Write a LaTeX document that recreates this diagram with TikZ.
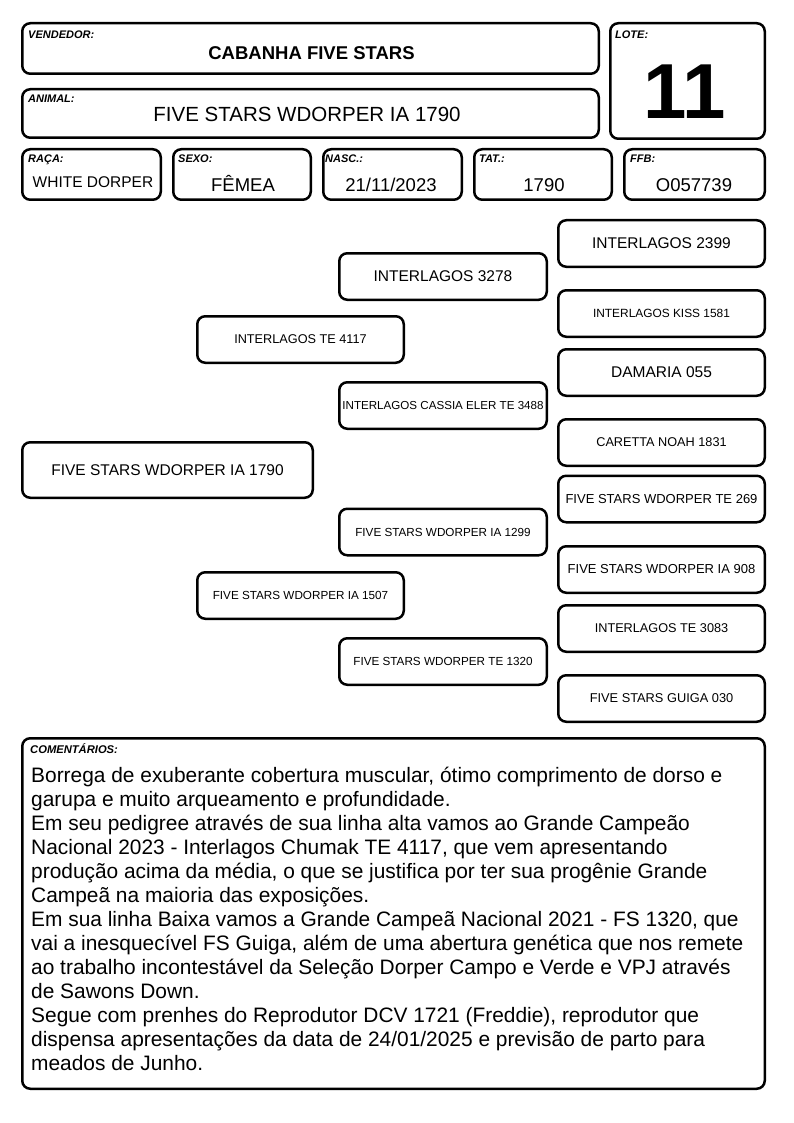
\documentclass[tikz,border=0pt]{standalone}
\usepackage{fontspec}
\setmainfont{Liberation Sans}
\usetikzlibrary{positioning}

\tikzset{
  frame/.style={draw, line width=2.5pt, rounded corners=8pt, inner sep=0pt},
  tag/.style={anchor=base west, inner sep=0pt, font=\fontsize{11}{11}\selectfont\bfseries\itshape},
  val/.style={anchor=base, inner sep=0pt, font=\fontsize{18.5}{18.5}\selectfont},
  pbox/.style={frame, minimum width=206.5pt, minimum height=46.5pt},
}

\begin{document}
\begin{tikzpicture}[x=1pt, y=-1pt]
  \useasboundingbox (0,0) rectangle (794,1123);
  % ---------- HEADER ----------
  \node[frame, minimum width=576.5pt, minimum height=50.5pt] (vend) at (310.5,48.5) {};
  \node[frame, minimum width=576.5pt, minimum height=48.5pt] (anim) at (310.5,113.5) {};
  \node[frame, minimum width=154.5pt, minimum height=115.5pt] (lote) at (687.5,81) {};
  \node[tag] (vendtag) at (28,39) {VENDEDOR:};
  \node[val, font=\fontsize{18.5}{18.5}\selectfont\bfseries] (vendval) at (311.5,60) {CABANHA FIVE STARS};
  \node[tag] (animtag) at (28,103) {ANIMAL:};
  \node[val, font=\fontsize{20.5}{20.5}\selectfont] (animval) at (307,122) {FIVE STARS WDORPER IA 1790};
  \node[tag] (lotetag) at (615,39) {LOTE:};
  \node[val, font=\fontsize{78}{78}\selectfont\bfseries] (loteval) at (685,119) {11};
  % ---------- DATA ROW ----------
  \foreach \nm/\cx/\w/\tx/\tg in {raca/91.5/138.5/28/RAÇA:, sexo/242/137.5/178/SEXO:,
      nasc/392.5/138.5/325/NASC.:, tat/543/137.5/479/TAT.:, ffb/694.5/140.5/630/FFB:}{
    \node[frame, minimum width=\w pt, minimum height=50.5pt] (\nm) at (\cx,174.5) {};
    \node[tag] (\nm tag) at (\tx,163) {\tg};
  }
  \node[val, font=\fontsize{15.5}{15.5}\selectfont] (racaval) at (93,188) {WHITE DORPER};
  \node[val] (sexoval) at (243,192) {FÊMEA};
  \node[val] (nascval) at (391,192) {21/11/2023};
  \node[val] (tatval) at (544,192) {1790};
  \node[val] (ffbval) at (694,192) {O057739};
  % ---------- PEDIGREE ----------
  \node[pbox, minimum width=290.5pt, minimum height=55.5pt, font=\fontsize{15.5}{15.5}\selectfont] (g1) at (167.5,470) {FIVE STARS WDORPER IA 1790};
  \foreach \nm/\cy/\sz/\txt in {g2a/339.5/12.7/INTERLAGOS TE 4117, g2b/595.5/11.7/FIVE STARS WDORPER IA 1507}
    \node[pbox, font=\fontsize{\sz}{\sz}\selectfont] (\nm) at (300.5,\cy) {\txt};
  \foreach \nm/\cy/\sz/\txt in {g3a/276.5/15.5/INTERLAGOS 3278, g3b/405.5/11.6/INTERLAGOS CASSIA ELER TE 3488,
      g3c/532/11.7/FIVE STARS WDORPER IA 1299, g3d/661.5/11.7/FIVE STARS WDORPER TE 1320}
    \node[pbox, minimum width=207.5pt, font=\fontsize{\sz}{\sz}\selectfont] (\nm) at (443,\cy) {\txt};
  \foreach \nm/\cy/\sz/\txt in {g4a/243.5/15.5/INTERLAGOS 2399, g4b/313.5/11.9/INTERLAGOS KISS 1581,
      g4c/372.5/15.5/DAMARIA 055, g4d/442.5/12.7/CARETTA NOAH 1831,
      g4e/499/13/FIVE STARS WDORPER TE 269, g4f/569.5/13/FIVE STARS WDORPER IA 908,
      g4g/628.5/12.7/INTERLAGOS TE 3083, g4h/698.5/12.8/FIVE STARS GUIGA 030}
    \node[pbox, font=\fontsize{\sz}{\sz}\selectfont] (\nm) at (661.5,\cy) {\txt};
  % ---------- COMMENTS ----------
  \node[frame, minimum width=742.5pt, minimum height=350.5pt] (coment) at (393.5,913.5) {};
  \node[tag, font=\fontsize{11.2}{11.2}\selectfont\bfseries\itshape] (comenttag) at (30,753) {COMENTÁRIOS:};
  \node[anchor=north west, inner sep=0pt, align=left, font=\fontsize{20.9}{24}\selectfont] (comenttxt) at (31,767) {%
    Borrega de exuberante cobertura muscular, ótimo comprimento de dorso e\\
    garupa e muito arqueamento e profundidade.\\
    Em seu pedigree através de sua linha alta vamos ao Grande Campeão\\
    Nacional 2023 - Interlagos Chumak TE 4117, que vem apresentando\\
    produção acima da média, o que se justifica por ter sua progênie Grande\\
    Campeã na maioria das exposições.\\
    Em sua linha Baixa vamos a Grande Campeã Nacional 2021 - FS 1320, que\\
    vai a inesquecível FS Guiga, além de uma abertura genética que nos remete\\
    ao trabalho incontestável da Seleção Dorper Campo e Verde e VPJ através\\
    de Sawons Down.\\
    Segue com prenhes do Reprodutor DCV 1721 (Freddie), reprodutor que\\
    dispensa apresentações da data de 24/01/2025 e previsão de parto para\\
    meados de Junho.};
\end{tikzpicture}
\end{document}
